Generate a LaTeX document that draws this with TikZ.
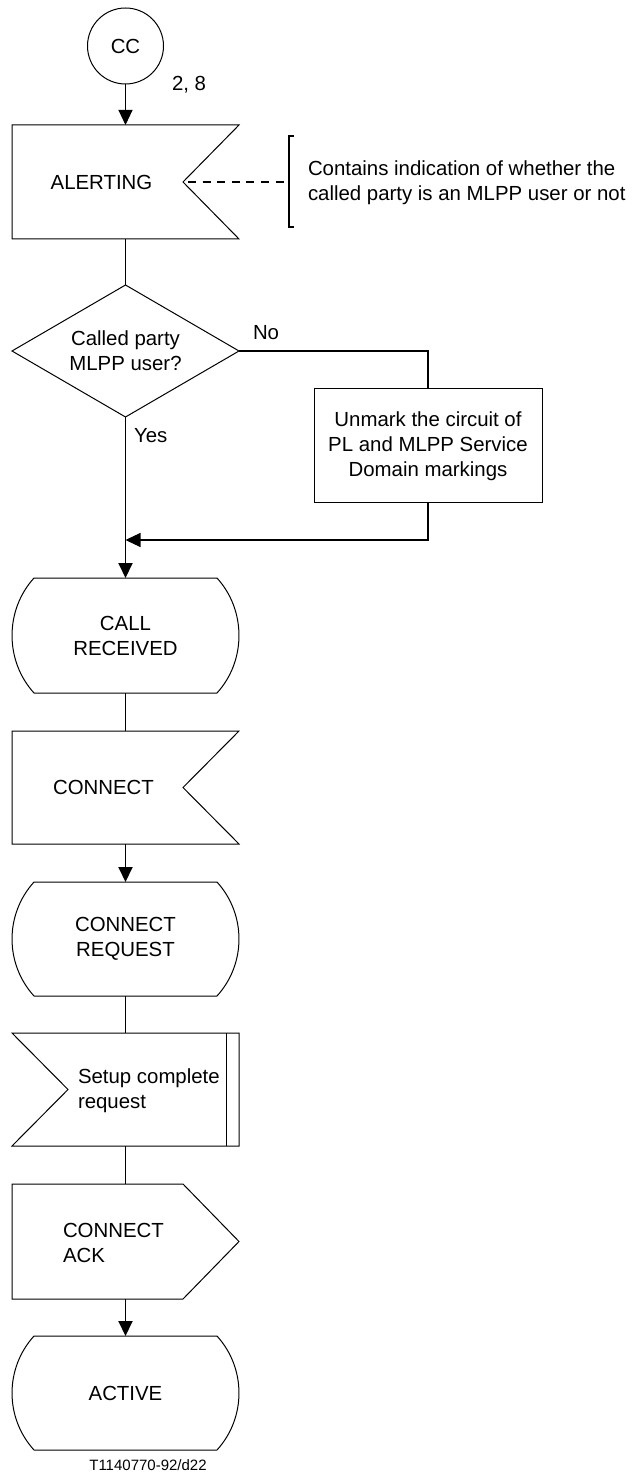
\documentclass[tikz,border=0pt]{standalone}
\usepackage{fontspec}
\setmainfont{Liberation Sans}
\usetikzlibrary{arrows.meta}
\newcommand\drawstate[1]{%
 \draw[outl] ([xshift=-11pt]#1.north east) .. controls ([xshift=3.65pt,yshift=-16.15pt]#1.north east) and ([xshift=3.65pt,yshift=16.15pt]#1.south east) .. ([xshift=-11pt]#1.south east) -- ([xshift=11pt]#1.south west) .. controls ([xshift=-3.65pt,yshift=16.15pt]#1.south west) and ([xshift=-3.65pt,yshift=-16.15pt]#1.north west) .. ([xshift=11pt]#1.north west) -- cycle;}
\begin{document}
\begin{tikzpicture}[x=0.5pt,y=-0.5pt,
  every node/.style={font=\fontsize{10.2pt}{12.5pt}\selectfont, inner sep=0pt, outer sep=0pt},
  shapebox/.style={minimum width=113.5pt, minimum height=57pt, align=center},
  outl/.style={draw=black, line width=0.5pt, line join=miter},
  conn/.style={draw=black, line width=0.95pt},
  thinconn/.style={draw=black, line width=0.55pt},
  tip/.style={-{Triangle[length=7.5pt,width=7pt]}},
  lbl/.style={align=left},
  caption/.style={font=\fontsize{7.5pt}{9pt}\selectfont},
]
\fill[white] (0,0) rectangle (632,1475);
\useasboundingbox (0,0) rectangle (632,1475);

% CC connector
\node[circle, draw, line width=0.5pt, minimum size=38pt] (cc) at (125.5,46) {CC};
\node[anchor=west] (ref) at (172,85) {2, 8};

% ALERTING (signal reception)
\node[shapebox] (alert) at (125.5,182) {};
\draw[outl] (alert.north west) -- (alert.north east) -- ([xshift=-28pt]alert.east) -- (alert.south east) -- (alert.south west) -- cycle;
\node (alertT) at (101.5,182) {ALERTING};

% Comment bracket
\coordinate (brk) at (289,182);
\draw[line width=1pt] (294,136) -- (289,136) -- (289,227) -- (294,227);
\draw[thinconn, dash pattern=on 4pt off 3.3pt, dash phase=-2.5pt] ([xshift=-28pt]alert.east) -- (brk);
\node[lbl, anchor=west] (note) at (308,182.5) {Contains indication of whether the\\called party is an MLPP user or not};

% Decision
\node[shapebox, minimum height=66pt] (dec) at (125.5,351) {Called party\\MLPP user?};
\draw[outl] (dec.north) -- (dec.east) -- (dec.south) -- (dec.west) -- cycle;
\node[anchor=west] (no) at (253,333) {No};
\node[anchor=west] (yes) at (134,436) {Yes};

% Task box
\node[shapebox, draw, line width=0.5pt, minimum width=114pt] (unmark) at (428,446) {Unmark the circuit of\\PL and MLPP Service\\Domain markings};
\coordinate (merge) at (125.5,540);

% CALL RECEIVED state
\node[shapebox, minimum height=57.5pt] (callrec) at (125.5,635.5) {CALL\\RECEIVED};
\drawstate{callrec}

% CONNECT (signal reception)
\node[shapebox, minimum height=56.5pt] (conn) at (125.5,787.5) {};
\draw[outl] (conn.north west) -- (conn.north east) -- ([xshift=-28pt]conn.east) -- (conn.south east) -- (conn.south west) -- cycle;
\node (connT) at (103.5,787) {CONNECT};

% CONNECT REQUEST state
\node[shapebox] (connreq) at (125.5,939) {CONNECT\\REQUEST};
\drawstate{connreq}

% Setup complete request (internal signal)
\node[shapebox, minimum height=56.5pt] (setup) at (125.5,1089.5) {};
\draw[outl] (setup.north west) -- (setup.north east) -- (setup.south east) -- (setup.south west) -- ([xshift=28pt]setup.west) -- cycle;
\draw[outl] ([xshift=-6.5pt]setup.north east) -- ([xshift=-6.5pt]setup.south east);
\node[lbl, anchor=west] (setupT) at (78,1090.5) {Setup complete\\request};

% CONNECT ACK (signal sending)
\node[shapebox, minimum height=57.5pt] (ack) at (125.5,1241.5) {};
\draw[outl] (ack.north west) -- ([xshift=-28pt]ack.north east) -- (ack.east) -- ([xshift=-28pt]ack.south east) -- (ack.south west) -- cycle;
\node[lbl, anchor=west] (ackT) at (63,1243) {CONNECT\\ACK};

% ACTIVE state
\node[shapebox] (active) at (125.5,1393) {ACTIVE};
\drawstate{active}

\node[caption] (cap) at (148,1465) {T1140770-92/d22};

% Connectors
\draw[thinconn, tip] (cc.south) -- (alert.north);
\draw[conn] (alert.south) -- (dec.north);
\draw[thinconn] (dec.east) -| (unmark.north);
\draw[thinconn, tip] (unmark.south) |- (merge);
\draw[conn, tip] (dec.south) -- (callrec.north);
\draw[conn] (callrec.south) -- (conn.north);
\draw[conn, tip] (conn.south) -- (connreq.north);
\draw[conn] (connreq.south) -- (setup.north);
\draw[conn] (setup.south) -- (ack.north);
\draw[conn, tip] (ack.south) -- (active.north);
\end{tikzpicture}
\end{document}
